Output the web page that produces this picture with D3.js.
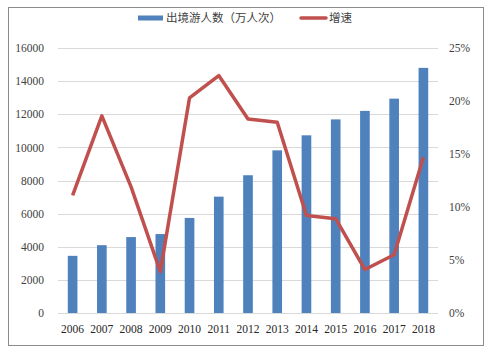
<!DOCTYPE html>
<html>
<head>
<meta charset="utf-8">
<script src="https://cdn.jsdelivr.net/npm/d3@7"></script>
<style>
  body { margin: 0; background: #fff; }
  svg { display: block; }
</style>
</head>
<body>
<div id="chart"></div>
<script>
// chart data
const years = ['2006','2007','2008','2009','2010','2011','2012','2013','2014','2015','2016','2017','2018']
const travellers = [3452, 4095, 4584, 4766, 5739, 7025, 8318, 9819, 10728, 11689, 12203, 12942, 14800]
const growth = [11.1, 18.6, 11.9, 3.9, 20.3, 22.4, 18.3, 18.0, 9.2, 8.9, 4.1, 5.5, 14.7]
const leftTicks = [0, 2000, 4000, 6000, 8000, 10000, 12000, 14000, 16000]
const rightTicks = [0, 5, 10, 15, 20, 25]

const W = 493, H = 353
const x0 = 58, x1 = 438, yTop = 48, yBot = 313

const svg = d3.select('#chart').append('svg')
    .attr('width', W).attr('height', H)

// outer frame
svg.append('rect')
    .attr('x', 8.5).attr('y', 7.5)
    .attr('width', 475).attr('height', 338)
    .attr('fill', 'none').attr('stroke', '#8c8c8c').attr('stroke-width', 1)

const x = d3.scaleBand().domain(years).range([x0, x1]).paddingInner(0.67).paddingOuter(0.335)
const y = d3.scaleLinear().domain([0, 16000]).range([yBot, yTop])
const y2 = d3.scaleLinear().domain([0, 25]).range([yBot, yTop])

// gridlines
svg.append('g')
    .selectAll('line')
    .data(leftTicks)
    .enter().append('line')
        .attr('x1', x0).attr('x2', x1)
        .attr('y1', d => Math.round(y(d)) + 0.5)
        .attr('y2', d => Math.round(y(d)) + 0.5)
        .attr('stroke', '#d9d9d9').attr('stroke-width', 1)

const numFont = '"Liberation Serif", "Times New Roman", serif'

// left axis
const leftAxis = svg.append('g')
    .attr('transform', 'translate(' + x0 + ',0)')
    .call(d3.axisLeft(y).tickValues(leftTicks).tickFormat(d3.format('d')).tickSize(0).tickPadding(14))
leftAxis.select('.domain').remove()
leftAxis.selectAll('text')
    .attr('font-family', numFont).attr('font-size', 11.5).attr('fill', '#404040')

// right axis
const rightAxis = svg.append('g')
    .attr('transform', 'translate(' + x1 + ',0)')
    .call(d3.axisRight(y2).tickValues(rightTicks).tickFormat(d => d + '%').tickSize(0).tickPadding(11))
rightAxis.select('.domain').remove()
rightAxis.selectAll('text')
    .attr('font-family', numFont).attr('font-size', 11.5).attr('fill', '#404040')

// bottom axis labels
const bottomAxis = svg.append('g')
    .attr('transform', 'translate(0,' + yBot + ')')
    .call(d3.axisBottom(x).tickSize(0).tickPadding(12))
bottomAxis.select('.domain').remove()
bottomAxis.selectAll('text')
    .attr('font-family', numFont).attr('font-size', 11.5).attr('fill', '#262626')

// bars
svg.append('g')
    .selectAll('rect')
    .data(years)
    .enter().append('rect')
        .attr('x', d => x(d))
        .attr('y', (d, i) => y(travellers[i]))
        .attr('width', x.bandwidth())
        .attr('height', (d, i) => yBot - y(travellers[i]))
        .attr('fill', '#4f81bd')

// growth line
const line = d3.line()
    .x((d, i) => x(years[i]) + x.bandwidth() / 2)
    .y(d => y2(d))

svg.append('path')
    .datum(growth)
    .attr('d', line)
    .attr('fill', 'none')
    .attr('stroke', '#c0504d')
    .attr('stroke-width', 3.5)
    .attr('stroke-linejoin', 'round')

// legend
const cjkFont = '"Noto Sans CJK SC", sans-serif'
const legend = svg.append('g')
legend.append('rect')
    .attr('x', 138).attr('y', 15.5).attr('width', 25).attr('height', 5)
    .attr('fill', '#4f81bd')
legend.append('text')
    .attr('x', 166).attr('y', 22)
    .attr('font-family', cjkFont).attr('font-size', 11.5).attr('fill', '#404040')
    .text('出境游人数（万人次）')
legend.append('line')
    .attr('x1', 301).attr('x2', 326).attr('y1', 18).attr('y2', 18)
    .attr('stroke', '#c0504d').attr('stroke-width', 3.5).attr('stroke-linecap', 'round')
legend.append('text')
    .attr('x', 329).attr('y', 22)
    .attr('font-family', cjkFont).attr('font-size', 11.5).attr('fill', '#404040')
    .text('增速')
</script>
</body>
</html>
